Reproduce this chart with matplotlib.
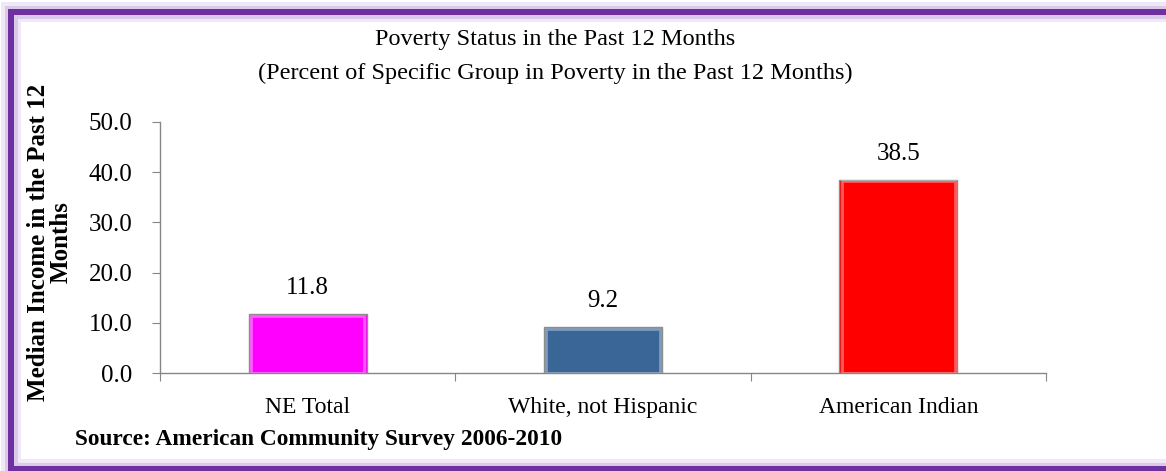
import numpy as np
import matplotlib
matplotlib.use('Agg')
import matplotlib.pyplot as plt
from matplotlib.lines import Line2D
from matplotlib.patches import Rectangle

# poverty rates, ACS 2006-2010
groups = ['NE Total', 'White, not Hispanic', 'American Indian']
poverty_pct = [11.8, 9.2, 38.5]
bar_colors = ['#FF00FF', '#3A6597', '#FF0000']
y_ticks = [0, 10, 20, 30, 40, 50]

plt.rcParams['font.family'] = ['Liberation Serif', 'DejaVu Serif']

W, H = 1166, 471
fig = plt.figure(figsize=(W / 100, H / 100), dpi=100)
fig.patch.set_facecolor('white')


def px_box(x0, y0, x1, y1):
    # pixel box (top-left origin) -> figure fraction
    return x0 / W, 1 - y1 / H, (x1 - x0) / W, (y1 - y0) / H


# purple frame with soft glow; open on the right, it runs to the figure edge
fx = np.array([W, 11, 11, W]) / W
fy = 1 - np.array([12, 12, 469, 469]) / H
for lw, col, a in [(20, '#E6DAF0', 0.6), (13, '#D2BEE6', 0.7), (6, '#7030A0', 1.0)]:
    fig.add_artist(Line2D(fx, fy, transform=fig.transFigure, color=col,
                          alpha=a, linewidth=lw * 0.72,
                          solid_joinstyle='miter', solid_capstyle='butt',
                          zorder=0))

ax = fig.add_axes(px_box(160, 122, 1046, 373))
x = np.arange(len(groups))
bars = ax.bar(x, poverty_pct, width=0.4, color=bar_colors,
              edgecolor='#8C8C8C', linewidth=1.0, zorder=2)

# light rim to suggest the bevelled bar faces
for bar in bars:
    bx, by = bar.get_x(), bar.get_y()
    bw, bh = bar.get_width(), bar.get_height()
    ax.add_patch(Rectangle((bx + 0.008, by), bw - 0.016, bh - 0.35,
                           fill=False, edgecolor='white', alpha=0.35,
                           linewidth=2.0, zorder=3))

for xi, v in zip(x, poverty_pct):
    ax.text(xi, v + 3.0, f'{v:.1f}', ha='center', va='bottom', fontsize=18)

ax.set_xlim(-0.5, len(groups) - 0.5)
ax.set_ylim(0, 50)
ax.set_yticks(y_ticks)
ax.set_yticklabels([f'{t:.1f}' for t in y_ticks], fontsize=18)
ax.set_xticks(np.arange(-0.5, len(groups), 1.0))
ax.set_xticklabels([])
ax.set_xticks(x, minor=True)
ax.set_xticklabels(groups, minor=True, fontsize=17)
ax.tick_params(axis='x', which='minor', length=0, pad=17)
ax.tick_params(axis='x', which='major', length=6, color='#868686')
ax.tick_params(axis='y', length=6, color='#868686', pad=14)

for side in ['top', 'right']:
    ax.spines[side].set_visible(False)
for side in ['left', 'bottom']:
    ax.spines[side].set_color('#868686')
    ax.spines[side].set_linewidth(1.0)

fig.text(555 / W, 1 - 40 / H, 'Poverty Status in the Past 12 Months',
         ha='center', va='center', fontsize=17.5)
fig.text(555 / W, 1 - 73 / H,
         '(Percent of Specific Group in Poverty in the Past 12 Months)',
         ha='center', va='center', fontsize=17.5)
fig.text(50 / W, 1 - 242 / H, 'Median Income in the Past 12\nMonths',
         ha='center', va='center', rotation=90, fontsize=18,
         fontweight='bold', linespacing=1.0)
fig.text(75 / W, 1 - 440 / H, 'Source: American Community Survey 2006-2010',
         ha='left', va='center', fontsize=16.8, fontweight='bold')

fig.savefig('out.png', dpi=100)
